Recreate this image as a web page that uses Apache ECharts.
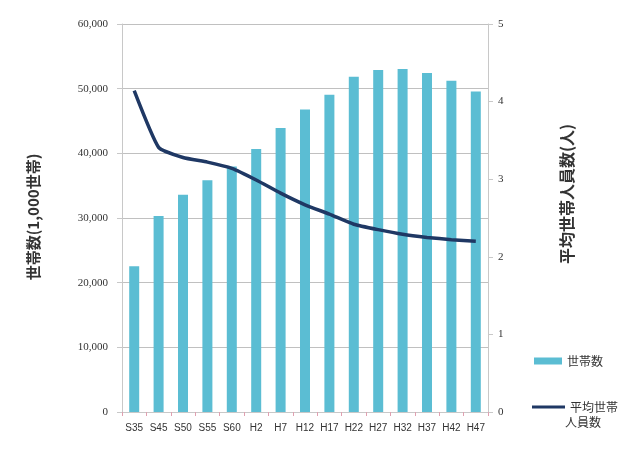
<!DOCTYPE html>
<html><head><meta charset="utf-8">
<script src="https://cdn.jsdelivr.net/npm/echarts@6/dist/echarts.min.js"></script>
<style>html,body{margin:0;padding:0;background:#fff}#c{width:637px;height:451px}</style>
</head><body><div id="c"></div>
<script>
const categories = ['S35','S45','S50','S55','S60','H2','H7','H12','H17','H22','H27','H32','H37','H42','H47'];
const households = [22539, 30297, 33596, 35824, 37980, 40670, 43900, 46782, 49063, 51842, 52904, 53053, 52439, 51231, 49555];
const avgSize = [4.14, 3.41, 3.28, 3.22, 3.14, 2.99, 2.82, 2.67, 2.55, 2.42, 2.35, 2.29, 2.25, 2.22, 2.20];
const leftTitle = '世帯数(1,000世帯)';
const rightTitle = '平均世帯人員数(人)';
const barName = '世帯数';
const lineName = '平均世帯人員数';
const lineNameLines = ['平均世帯', '人員数'];

const chart = echarts.init(document.getElementById('c'), null, {renderer:'canvas'});
chart.setOption({
  animation:false,
  backgroundColor:'#fff',
  grid:{left:122,right:149,top:24,bottom:39},
  legend:[
    {data:[barName],left:529,top:350,orient:'vertical',itemWidth:28,itemHeight:7,icon:'rect',itemGap:4,
     textStyle:{fontSize:12,color:'#333',fontFamily:'Noto Sans CJK JP'}},
    {data:[{name:lineName,icon:'rect'}],left:527,top:396,orient:'vertical',itemWidth:33,itemHeight:3,itemGap:2,
     formatter:()=>lineNameLines[0],
     textStyle:{fontSize:12,color:'#333',fontFamily:'Noto Sans CJK JP'}}
  ],
  xAxis:{type:'category',data:categories,
    axisLine:{lineStyle:{color:'#c8c8c8'}},
    axisTick:{show:true,lineStyle:{color:'#e0a0b0'},length:4},
    axisLabel:{interval:0,fontSize:10,color:'#333',fontFamily:'Liberation Sans',margin:11}},
  yAxis:[
    {type:'value',min:0,max:60000,interval:10000,
     axisLine:{show:true,lineStyle:{color:'#c8c8c8'}},
     axisTick:{show:true,lineStyle:{color:'#c8c8c8'},length:5},
     splitLine:{lineStyle:{color:'#c0c0c0'}},
     axisLabel:{fontSize:11,color:'#333',fontFamily:'Liberation Serif',margin:14,
       formatter:v=>v.toLocaleString('en-US')}},
    {type:'value',min:0,max:5,interval:1,position:'right',
     axisLine:{show:true,lineStyle:{color:'#c8c8c8'}},
     axisTick:{show:true,lineStyle:{color:'#c8c8c8'},length:5},
     splitLine:{show:false},
     axisLabel:{fontSize:11,color:'#333',fontFamily:'Liberation Serif',margin:10}}
  ],
  graphic:[
    {type:'text',x:33,y:217,rotation:Math.PI/2,
     style:{text:leftTitle,font:'bold 15px "Noto Sans CJK JP"',fill:'#333',align:'center',verticalAlign:'middle'}},
    {type:'text',x:567,y:194,rotation:Math.PI/2,
     style:{text:rightTitle,font:'bold 16px "Noto Sans CJK JP"',fill:'#333',align:'center',verticalAlign:'middle'}},
    {type:'text',x:583,y:422,
     style:{text:lineNameLines[1],font:'12px "Noto Sans CJK JP"',fill:'#333',align:'center',verticalAlign:'middle'}}
  ],
  series:[
    {name:barName,type:'bar',data:households,barWidth:10,itemStyle:{color:'#5bbdd3'}},
    {name:lineName,type:'line',yAxisIndex:1,data:avgSize,smooth:0.15,symbol:'none',
     lineStyle:{color:'#1f3864',width:3.5},itemStyle:{color:'#1f3864'}}
  ]
});
</script></body></html>
